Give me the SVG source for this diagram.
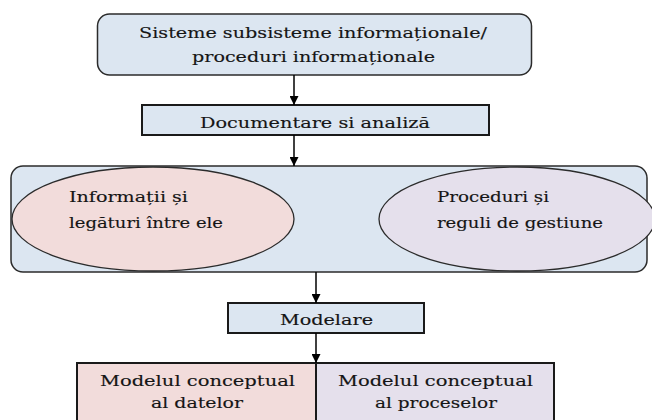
<svg xmlns="http://www.w3.org/2000/svg" width="652" height="420" viewBox="0 0 652 420">
<defs>
<marker id="ah" viewBox="0 0 10 10" refX="10" refY="5" markerWidth="9" markerHeight="9" markerUnits="userSpaceOnUse" orient="auto">
<path d="M0,0 L10,5 L0,10 z" fill="#000"/>
</marker>
<style>
.t{font-family:'DejaVu Serif','Liberation Serif',serif;font-size:15px;fill:#151515;stroke:#151515;stroke-width:0.15;}
.blue{fill:#dce6f1;stroke:#2b2b2b;stroke-width:1.5;}
.pink{fill:#f2dcdb;stroke:#2b2b2b;stroke-width:1.3;}
.lav{fill:#e5e0ec;stroke:#2b2b2b;stroke-width:1.3;}
.sq{stroke:#1a1a1a;stroke-width:2;}
.c{stroke:#000;stroke-width:1.5;fill:none;marker-end:url(#ah);}
</style>
</defs>
<rect width="652" height="420" fill="#fff"/>
<g id="n-sisteme">
<rect class="blue" x="97.5" y="14" width="434" height="61" rx="12"/>
<text class="t" x="139" y="38" textLength="348" lengthAdjust="spacingAndGlyphs">Sisteme  subsisteme informaționale/</text>
<text class="t" x="192" y="62" textLength="243" lengthAdjust="spacingAndGlyphs">proceduri informaționale</text>
</g>
<g id="n-documentare">
<rect class="blue sq" x="142" y="105" width="347" height="30"/>
<text class="t" x="200" y="128" textLength="230" lengthAdjust="spacingAndGlyphs">Documentare si analiză</text>
</g>
<g id="n-container">
<rect class="blue" x="11" y="166" width="636" height="106" rx="12"/>
</g>
<g id="n-informatii">
<ellipse class="pink" cx="153" cy="219" rx="141" ry="52"/>
<text class="t" x="69" y="202" textLength="119" lengthAdjust="spacingAndGlyphs">Informații și</text>
<text class="t" x="69" y="228" textLength="154" lengthAdjust="spacingAndGlyphs">legături între ele</text>
</g>
<g id="n-proceduri">
<ellipse class="lav" cx="517" cy="219" rx="138" ry="52"/>
<text class="t" x="437" y="202" textLength="112" lengthAdjust="spacingAndGlyphs">Proceduri și</text>
<text class="t" x="437" y="228" textLength="166" lengthAdjust="spacingAndGlyphs">reguli de gestiune</text>
</g>
<g id="n-modelare">
<rect class="blue sq" x="228" y="303" width="196" height="30"/>
<text class="t" x="280" y="325" textLength="93" lengthAdjust="spacingAndGlyphs">Modelare</text>
</g>
<g id="n-date">
<rect class="pink sq" x="77" y="363" width="239" height="70"/>
<text class="t" x="100" y="386" textLength="195" lengthAdjust="spacingAndGlyphs">Modelul conceptual</text>
<text class="t" x="151" y="408" textLength="92" lengthAdjust="spacingAndGlyphs">al datelor</text>
</g>
<g id="n-procese">
<rect class="lav sq" x="316" y="363" width="238" height="70"/>
<text class="t" x="338" y="386" textLength="195" lengthAdjust="spacingAndGlyphs">Modelul conceptual</text>
<text class="t" x="375" y="408" textLength="122" lengthAdjust="spacingAndGlyphs">al proceselor</text>
</g>
<g id="connectors">
<line class="c" x1="294" y1="75" x2="294" y2="105"/>
<line class="c" x1="294" y1="135" x2="294" y2="166"/>
<line class="c" x1="316" y1="272" x2="316" y2="303"/>
<line class="c" x1="316" y1="333" x2="316" y2="363"/>
</g>
</svg>
